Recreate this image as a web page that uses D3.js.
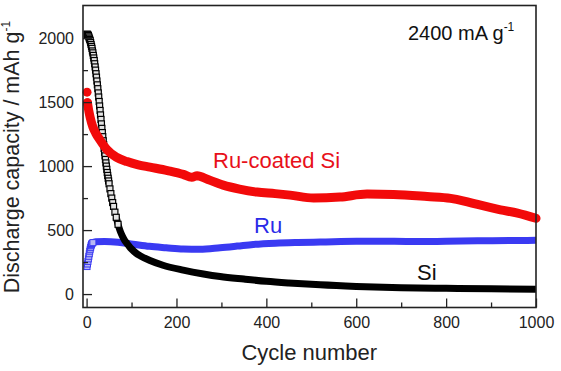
<!DOCTYPE html>
<html>
<head>
<meta charset="utf-8">
<script src="https://cdn.jsdelivr.net/npm/d3@7"></script>
<style>
  body { margin: 0; background: #fff; }
  svg text { font-family: Arial, "Liberation Sans", sans-serif; }
</style>
</head>
<body>
<svg id="chart" width="561" height="371"></svg>
<script>
// values
const xTicks = [0, 200, 400, 600, 800, 1000];
const xMinor = [100, 300, 500, 700, 900];
const yTicks = [0, 500, 1000, 1500, 2000];
const yMinor = [250, 750, 1250, 1750];

const siCycles = [1, 2, 3, 4, 5, 6, 7, 8, 9, 10, 11, 12, 13, 14, 15, 16, 17, 18, 19, 20,
  21, 22, 23, 24, 25, 26, 27, 28, 29, 30, 31, 32, 33, 34, 35, 36, 37, 38, 39, 40,
  41, 42, 43, 44, 45, 46, 47, 48, 49, 50, 52, 54, 56, 58, 60, 63, 66, 70, 75, 80,
  85, 90, 95, 100, 110, 120, 141, 170, 215, 260, 297, 350, 400, 450, 520, 600, 700, 800, 900, 1000];
const siCapacity = [2030, 2030, 2025, 2020, 2010, 2000, 1990, 1980, 1965, 1950, 1935, 1920, 1900, 1885, 1865, 1845, 1825, 1800, 1775, 1750,
  1722, 1695, 1665, 1635, 1605, 1572, 1540, 1505, 1470, 1435, 1400, 1365, 1330, 1295, 1262, 1230, 1198, 1168, 1138, 1108,
  1080, 1052, 1025, 1000, 975, 950, 927, 905, 884, 862, 822, 785, 750, 715, 685, 640, 600, 545, 490, 450,
  418, 395, 372, 352, 320, 298, 262, 225, 187, 157, 137, 117, 100, 87, 72, 60, 50, 45, 41, 38];

const ruCycles = [1, 2, 3, 4, 5, 6, 7, 8, 9, 10, 11, 12, 14, 17, 20, 40, 70, 103, 140, 177,
  215, 252, 297, 335, 371, 420, 470, 520, 600, 680, 743, 800, 870, 940, 1000];
const ruCapacity = [215, 235, 255, 275, 295, 315, 335, 350, 365, 378, 388, 395, 402, 406, 408, 410, 405, 390, 373, 362,
  352, 350, 362, 375, 388, 398, 403, 406, 412, 412, 410, 413, 416, 418, 420];

const ruSiCycles = [1, 2, 3, 5, 8, 14, 20, 30, 45, 66, 90, 115, 141, 180, 215, 234, 246, 270, 304, 340,
  379, 420, 453, 505, 564, 624, 683, 758, 810, 840, 870, 921, 959, 1000];
const ruSiCapacity = [1578, 1495, 1470, 1430, 1380, 1305, 1260, 1203, 1130, 1070, 1035, 1010, 992, 965, 935, 912, 925, 895, 851, 820,
  797, 785, 773, 750, 758, 781, 778, 762, 748, 727, 700, 658, 633, 592];

const svg = d3.select("#chart");
const margin = {top: 5.5, right: 25, bottom: 63.5, left: 83};
const width = 561 - margin.left - margin.right;
const height = 371 - margin.top - margin.bottom;

const x = d3.scaleLinear().domain([-8, 1000]).range([margin.left, margin.left + width]);
const y = d3.scaleLinear().domain([-105, 2255]).range([margin.top + height, margin.top]);

const zip = (a, b) => a.map((c, i) => [c, b[i]]);
const si = zip(siCycles, siCapacity);
const ru = zip(ruCycles, ruCapacity);
const ruSi = zip(ruSiCycles, ruSiCapacity);

const line = d3.line()
  .x(d => x(d[0]))
  .y(d => y(d[1]))
  .curve(d3.curveMonotoneX);

const plot = svg.append("g");

// Ru
plot.append("path")
  .attr("d", line(ru.filter(d => d[0] >= 12)))
  .attr("fill", "none")
  .attr("stroke", "#3a3af2")
  .attr("stroke-width", 7);
plot.selectAll(".ruSq")
  .data(ru.filter(d => d[0] <= 14))
  .enter().append("rect")
  .attr("class", "ruSq")
  .attr("x", d => x(d[0]) - 3)
  .attr("y", d => y(d[1]) - 3)
  .attr("width", 6).attr("height", 6)
  .attr("fill", "#b8b8f4")
  .attr("stroke", "#3a3af2")
  .attr("stroke-width", 1);

// Si
plot.append("path")
  .attr("d", line(si.filter(d => d[0] >= 66)))
  .attr("fill", "none")
  .attr("stroke", "#000")
  .attr("stroke-width", 7);
plot.selectAll(".siSq")
  .data(si.filter(d => d[0] <= 70))
  .enter().append("rect")
  .attr("class", "siSq")
  .attr("x", d => x(d[0]) - 3)
  .attr("y", d => y(d[1]) - 3)
  .attr("width", 6).attr("height", 6)
  .attr("fill", "#e4e4e4")
  .attr("stroke", "#000")
  .attr("stroke-width", 1.2);

// Ru-coated Si
plot.append("path")
  .attr("d", line(ruSi.filter(d => d[0] >= 2)))
  .attr("fill", "none")
  .attr("stroke", "#f20a0a")
  .attr("stroke-width", 9)
  .attr("stroke-linecap", "round");
plot.selectAll(".ruSiDot")
  .data(ruSi.filter(d => d[0] <= 2))
  .enter().append("circle")
  .attr("class", "ruSiDot")
  .attr("cx", d => x(d[0]))
  .attr("cy", d => y(d[1]))
  .attr("r", 4.5)
  .attr("fill", "#f20a0a");

// axes, ticks pointing inward
svg.append("g")
  .attr("transform", `translate(0,${margin.top + height})`)
  .call(d3.axisBottom(x).tickValues(xTicks).tickFormat(d3.format("d"))
    .tickSizeInner(-9).tickSizeOuter(0).tickPadding(9));
svg.append("g")
  .attr("transform", `translate(0,${margin.top + height})`)
  .call(d3.axisBottom(x).tickValues(xMinor).tickSizeInner(-5).tickSizeOuter(0).tickFormat(""));
svg.append("g")
  .attr("transform", `translate(${margin.left},0)`)
  .call(d3.axisLeft(y).tickValues(yTicks).tickFormat(d3.format("d"))
    .tickSizeInner(-9).tickSizeOuter(0).tickPadding(9));
svg.append("g")
  .attr("transform", `translate(${margin.left},0)`)
  .call(d3.axisLeft(y).tickValues(yMinor).tickSizeInner(-5).tickSizeOuter(0).tickFormat(""));

svg.selectAll(".domain").remove();
svg.selectAll(".tick line").attr("stroke", "#222").attr("stroke-width", 1.3);
svg.selectAll(".tick text")
  .attr("font-size", 16)
  .attr("font-family", "Arial, 'Liberation Sans', sans-serif")
  .attr("fill", "#222");

svg.append("rect")
  .attr("x", margin.left).attr("y", margin.top)
  .attr("width", width).attr("height", height)
  .attr("fill", "none")
  .attr("stroke", "#222")
  .attr("stroke-width", 1.6);

// titles
svg.append("text")
  .attr("x", x(500) - 2)
  .attr("y", 360)
  .attr("text-anchor", "middle")
  .attr("font-size", 22)
  .attr("fill", "#222")
  .text("Cycle number");

const yTitle = svg.append("text")
  .attr("transform", `translate(19,157) rotate(-90)`)
  .attr("text-anchor", "middle")
  .attr("font-size", 21.5)
  .attr("fill", "#222");
yTitle.append("tspan").text("Discharge capacity / mAh g");
yTitle.append("tspan").attr("font-size", 12).attr("dy", -9).text("-1");

const rate = svg.append("text")
  .attr("x", 408)
  .attr("y", 40)
  .attr("font-size", 20)
  .attr("fill", "#111");
rate.append("tspan").text("2400 mA g");
rate.append("tspan").attr("font-size", 12).attr("dy", -9).text("-1");

svg.append("text").attr("x", 213).attr("y", 168)
  .attr("font-size", 22).attr("fill", "#e8101a").text("Ru-coated Si");
svg.append("text").attr("x", 254).attr("y", 233)
  .attr("font-size", 22).attr("fill", "#2a2ae8").text("Ru");
svg.append("text").attr("x", 417).attr("y", 280)
  .attr("font-size", 22).attr("fill", "#111").text("Si");
</script>
</body>
</html>
